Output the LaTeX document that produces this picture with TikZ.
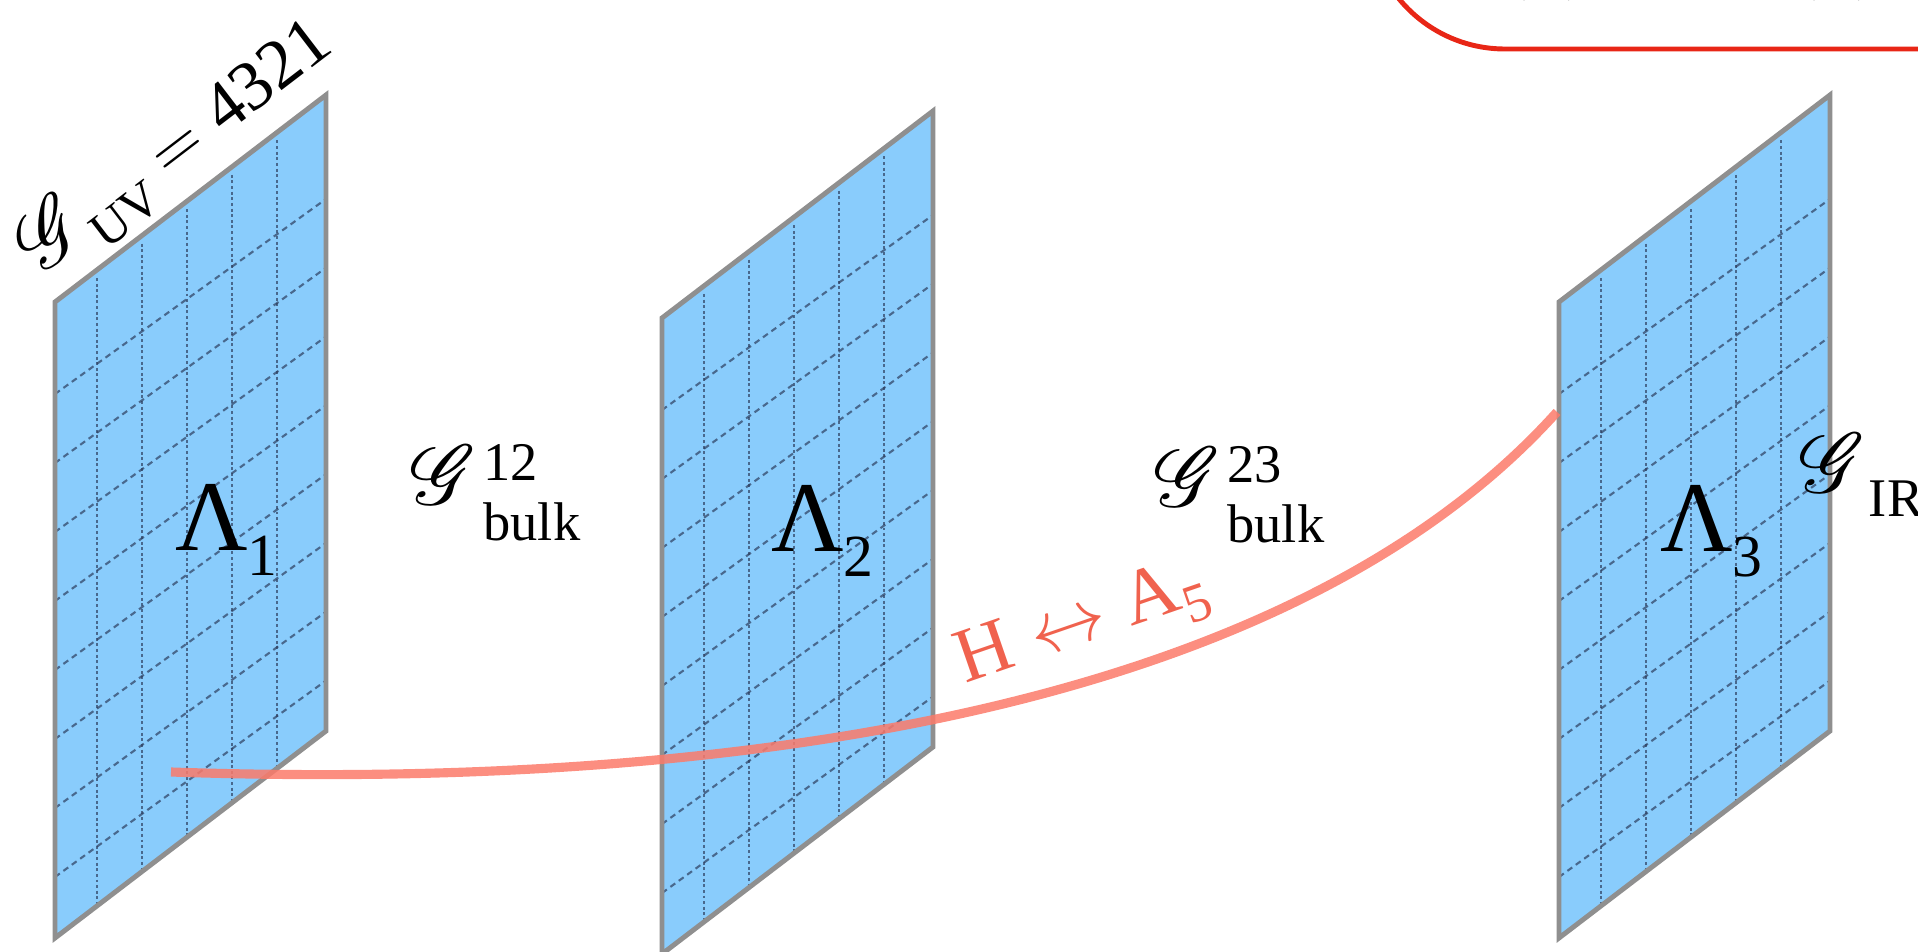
\documentclass[tikz,border=0pt]{standalone}
\usepackage{fix-cm}
\usepackage{amsmath}
\usepackage{mathrsfs}
\usepackage{fontspec}
\setmainfont{Liberation Serif}
\usetikzlibrary{positioning}
\DeclareFontFamily{U}{rsfs}{\skewchar\font127 }
\DeclareFontShape{U}{rsfs}{m}{n}{<-> rsfs10}{}

\definecolor{panelblue}{RGB}{137,204,252}
\definecolor{panelgrey}{RGB}{143,143,143}
\definecolor{gridcol}{RGB}{45,62,95}
\definecolor{salmonline}{RGB}{252,122,106}
\definecolor{salmontext}{RGB}{240,98,78}
\definecolor{boxred}{RGB}{232,38,22}

\newcommand{\lamfont}{\fontsize{57}{60}\selectfont}
\newcommand{\labfont}{\fontsize{44}{48}\selectfont}
\newcommand{\scfont}{\fontsize{31}{31}\selectfont}
\newcommand{\gsym}{{\fontsize{48}{50}\selectfont$\mathscr{G}$}}
\newcommand{\lamsub}[1]{Λ\raisebox{-14pt}{\fontsize{34}{34}\selectfont #1}}
\newcommand{\gbulk}[1]{\gsym\kern4pt\rlap{\raisebox{14pt}{\scfont #1}}\raisebox{-20pt}{\scfont bulk}}

\begin{document}
\begin{tikzpicture}[
  x=0.02cm, y=-0.02cm,
  lam/.style={anchor=base west, inner sep=0pt, font=\lamfont},
  glab/.style={anchor=base west, inner sep=0pt, font=\labfont},
  panel/.style={draw=panelgrey, line width=2.8pt, line join=miter},
  vgrid/.style={gridcol, opacity=0.7, line width=1.2pt, dash pattern=on 1.7pt off 1.5pt},
  sgrid/.style={gridcol, opacity=0.7, line width=1.2pt, dash pattern=on 3.4pt off 2.5pt},
  field/.style={salmonline, line width=5.2pt, opacity=0.85}]
\useasboundingbox (0,0) rectangle (1918,952);
% the three branes
\foreach \px/\py/\nm in {55/302/one, 662/318/two, 1559/302/three}{
  \coordinate (\nm) at (\px,\py);
  \fill[panelblue] (\nm) -- ++(271,-207) -- ++(0,636) -- ++(-271,207) -- cycle;
  \foreach \k in {0,...,7}
    \draw[sgrid] (\px,\py+92+69*\k) -- (\px+271,\py-103+68.8*\k);
  \foreach \k in {0,...,4}
    \draw[vgrid] (\px+42+45*\k,{\py+8-0.7638*(42+45*\k)}) -- ++(0,628);
  \draw[panel] (\nm) -- ++(271,-207) -- ++(0,636) -- ++(-271,207) -- cycle;
}
% box at the top
\draw[boxred, line width=2.8pt, rounded corners=2.74cm] (1368,-300) rectangle (2300,49);
\node[glab, anchor=base] (lpar) at (1547,-15) {(\hspace{22pt})};
\node[glab, anchor=base] (rpar) at (1837,-15) {(\hspace{22pt})};
% the line through the bulk
\coordinate (hstart) at (171,772);
\coordinate (hend) at (1557,412);
\draw[field] (hstart) .. controls (700,790) and (1280,720) .. (hend);
\node[glab, rotate=19, text=salmontext] (hlab) at (965,684) {H${}\leftrightarrow{}$A\raisebox{-10pt}{\scfont 5}};
% labels
\node[lam] (lam1) at (175,551) {\lamsub{1}};
\node[lam] (lam2) at (771,552) {\lamsub{2}};
\node[lam] (lam3) at (1660,552) {\lamsub{3}};
\node[glab] (g12) at (410,505) {\gbulk{12}};
\node[glab] (g23) at (1154,507) {\gbulk{23}};
\node[glab] (gir) at (1799,493) {\gsym\kern2pt\raisebox{-13.5pt}{\scfont IR}};
\node[glab, anchor=base east, rotate=37.4, font=\fontsize{40}{44}\selectfont] (guv) at (336,50)
  {\gsym\kern1pt\raisebox{-11pt}{\fontsize{29}{29}\selectfont UV}${}={}$4321};
\end{tikzpicture}
\end{document}
